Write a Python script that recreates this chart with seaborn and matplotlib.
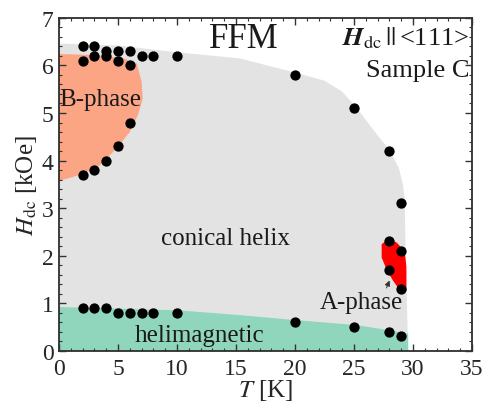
import matplotlib
matplotlib.use("Agg")
import matplotlib.pyplot as plt
import seaborn as sns
import pandas as pd
import numpy as np

# measured points (T [K], H [kOe])
T_top = [2, 3, 4, 5, 6, 7, 8, 10, 20, 25, 28, 29]
H_top = [6.4, 6.4, 6.3, 6.3, 6.3, 6.2, 6.2, 6.2, 5.8, 5.1, 4.2, 3.1]
T_Bup = [2, 3, 4, 5, 6]
H_Bup = [6.1, 6.2, 6.2, 6.1, 6.0]
T_Blo = [2, 3, 4, 5, 6]
H_Blo = [3.7, 3.8, 4.0, 4.3, 4.8]
T_A = [28, 29, 28, 29]
H_A = [2.3, 2.1, 1.7, 1.3]
T_hel = [2, 3, 4, 5, 6, 7, 8, 10, 20, 25, 28, 29]
H_hel = [0.9, 0.9, 0.9, 0.8, 0.8, 0.8, 0.8, 0.8, 0.6, 0.5, 0.4, 0.3]

# region outlines
gray_T = [0, 0, 5, 10.25, 15.3, 20, 22.5, 24.0, 25.2, 26.6, 28.0, 28.8, 29.15, 29.3, 29.4, 29.6]
gray_H = [0, 6.46, 6.42, 6.27, 6.15, 5.85, 5.68, 5.45, 5.12, 4.66, 4.22, 3.85, 3.5, 3.2, 1.8, 0]
hel_T = [0, 0, 10.1, 15.3, 19.8, 25.2, 28, 29.6, 29.6]
hel_H = [0, 0.92, 0.85, 0.75, 0.65, 0.54, 0.43, 0.36, 0]
B_T = [0, 0, 3, 5.5, 6.6, 7.0, 7.1, 6.7, 6.0, 4.9, 3.47, 1.8, 0]
B_H = [3.57, 6.24, 6.22, 6.15, 6.04, 5.66, 5.3, 4.96, 4.6, 4.26, 3.9, 3.7, 3.57]
A_T = [27.35, 27.9, 28.6, 29.3, 29.45, 29.45, 29.0, 28.3, 27.8, 27.35]
A_H = [2.24, 2.35, 2.28, 2.1, 1.76, 1.27, 1.23, 1.48, 1.69, 1.96]

sns.set_theme(style="ticks")
plt.rcParams['font.family'] = ['Liberation Serif', 'DejaVu Serif']
plt.rcParams['mathtext.fontset'] = 'stix'

pos = [0.1216, 0.125, 0.8514, 0.828]
fig = plt.figure(figsize=(4.85, 4.02), dpi=100)
ax = fig.add_axes(pos)

ax.fill(gray_T, gray_H, color='#e3e3e3', lw=0, zorder=1)
ax.fill(hel_T, hel_H, color='#8fd6bd', lw=0, zorder=1.5)
ax.fill(B_T, B_H, color='#fba584', lw=0, zorder=1.5)
ax.fill(A_T, A_H, color='#ff0000', lw=0, zorder=1.5)

df = pd.DataFrame({
    'T': T_top + T_Bup + T_Blo + T_A + T_hel,
    'H': H_top + H_Bup + H_Blo + H_A + H_hel,
})
ax.errorbar(df['T'], df['H'], yerr=0.07, fmt='none', ecolor='#888888',
            elinewidth=1, capsize=2.5, zorder=3)
sns.scatterplot(data=df, x='T', y='H', ax=ax, color='black', s=55,
                edgecolor='black', linewidth=0, zorder=4, legend=False)

ax.set_xlim(0, 35)
ax.set_ylim(0, 7)
ax.set_xticks(range(0, 36, 5))
ax.set_yticks(range(0, 8))
ax.xaxis.set_minor_locator(matplotlib.ticker.MultipleLocator(1))
ax.yaxis.set_minor_locator(matplotlib.ticker.MultipleLocator(0.2))
ax.tick_params(which='both', direction='in', top=True, right=True,
               labelsize=17, color='#333333')
ax.tick_params(which='major', length=5, width=1)
ax.tick_params(which='minor', length=2.5, width=0.8)
ax.tick_params(axis='x', which='major', pad=5.5)
ax.tick_params(axis='y', which='major', pad=4)

ax.set_xlabel(r'$T$ [K]', fontsize=18, labelpad=-2)
ax.set_ylabel(r'$H_{\rm dc}$ [kOe]', fontsize=18, labelpad=2)

tc = '#1a1a1a'
ax.text(15.7, 6.56, 'FFM', fontsize=25, ha='center', va='center', zorder=5, color=tc)
ax.text(34.8, 6.6, r'$\boldsymbol{H}_{\rm dc}\,||\,$<111>', fontsize=19,
        ha='right', va='center', zorder=5, color=tc)
ax.text(34.8, 5.9, 'Sample C', fontsize=19, ha='right', va='center', zorder=5, color=tc)
ax.text(0.05, 5.3, 'B-phase', fontsize=18, ha='left', va='center', zorder=5, color=tc)
ax.text(14.1, 2.38, 'conical helix', fontsize=18, ha='center', va='center', zorder=5, color=tc)
ax.text(11.95, 0.33, 'helimagnetic', fontsize=18, ha='center', va='center', zorder=5, color=tc)
ax.annotate('A-phase', xy=(28.15, 1.56), xytext=(25.6, 1.02), fontsize=18,
            ha='center', va='center', zorder=5, color=tc,
            arrowprops=dict(arrowstyle='-|>', color='#333333', lw=0.7,
                            relpos=(0.78, 0.9), shrinkA=0, shrinkB=3,
                            mutation_scale=8))
ax.set_axisbelow(False)

fig.savefig('out.png', dpi=100)
